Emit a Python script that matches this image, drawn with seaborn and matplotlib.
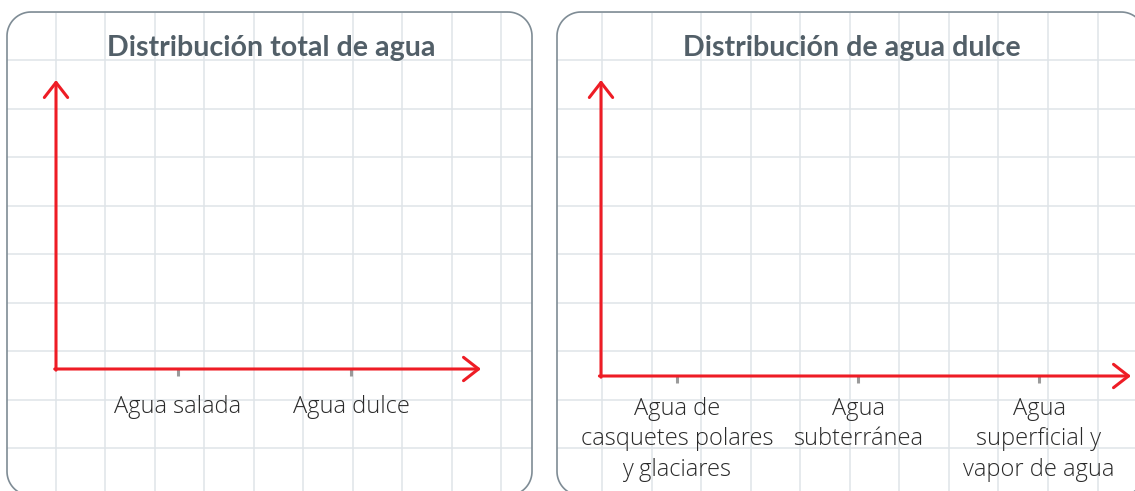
import numpy as np
import matplotlib
matplotlib.use("Agg")
import matplotlib.pyplot as plt
from matplotlib.patches import Polygon
import seaborn as sns

# blank worksheet: categories only, no values filled in yet
titles = ["Distribución total de agua", "Distribución de agua dulce"]
total_cats = ["Agua salada", "Agua dulce"]
total_vals = [0, 0]
dulce_cats = ["Agua de\ncasquetes polares\ny glaciares", "Agua\nsubterránea",
              "Agua\nsuperficial y\nvapor de agua"]
dulce_vals = [0, 0, 0]

sns.set_theme(style="white")
plt.rcParams["font.family"] = ["Open Sans", "DejaVu Sans"]

W, H = 1135, 491
fig = plt.figure(figsize=(W / 100, H / 100), dpi=100)

# background: rounded cards with square grid
bg = fig.add_axes([0, 0, 1, 1])
bg.set_xlim(0, W)
bg.set_ylim(H, 0)
bg.axis("off")


def rounded_rect(x0, y0, w, h, r, **kw):
    t = np.linspace(0, np.pi / 2, 20)
    x1, y1 = x0 + w, y0 + h
    pts = np.vstack([
        np.c_[x1 - r + r * np.sin(t), y0 + r - r * np.cos(t)],
        np.c_[x1 - r + r * np.cos(t), y1 - r + r * np.sin(t)],
        np.c_[x0 + r - r * np.sin(t), y1 - r + r * np.cos(t)],
        np.c_[x0 + r - r * np.cos(t), y0 + r - r * np.sin(t)],
    ])
    return Polygon(pts, closed=True, **kw)


panels = [(7, 12, 525, 483.5, 55.5), (557, 12, 588, 483.5, 602)]
grid_y = 60 + 48.5 * np.arange(-1, 10)
for x0, y0, w, h, gx0 in panels:
    card = rounded_rect(x0, y0, w, h, 24, fc="white", ec="none", zorder=1)
    bg.add_patch(card)
    for gx in gx0 + 49.55 * np.arange(-1, 12):
        ln, = bg.plot([gx, gx], [0, H], color="#dfe4e8", lw=1.1, zorder=2)
        ln.set_clip_path(card)
    for gy in grid_y:
        ln, = bg.plot([0, W], [gy, gy], color="#dfe4e8", lw=1.1, zorder=2)
        ln.set_clip_path(card)
    bg.add_patch(rounded_rect(x0, y0, w, h, 24, fc="none", ec="#7f8c95", lw=1.2, zorder=3))

for title, cx in zip(titles, [271, 852]):
    fig.text(cx / W, 1 - 48 / H, title, ha="center", va="center", fontsize=20.6,
             fontweight="bold", color="#525f68", family=["Lato", "DejaVu Sans"])


def chart_axes(x_left, x_right, y_top, y_bottom):
    ax = fig.add_axes([x_left / W, 1 - y_bottom / H, (x_right - x_left) / W,
                       (y_bottom - y_top) / H])
    ax.patch.set_alpha(0)
    return ax


red = "#ee1c25"
arrow = dict(arrowstyle="->,head_length=0.9,head_width=0.7", color=red, lw=2.2,
             shrinkA=0, shrinkB=0)

specs = [
    (total_cats, total_vals, (56, 481, 80, 369), (-0.705, 1.751), 14),
    (dulce_cats, dulce_vals, (601, 1131, 80, 376), (-0.42, 2.508), 10),
]
for cats, vals, box, xlim, pad in specs:
    ax = chart_axes(*box)
    sns.barplot(x=cats, y=vals, ax=ax, color=red, linewidth=0)
    ax.set_xlim(*xlim)
    ax.set_ylim(0, 1)
    sns.despine(ax=ax, left=True, bottom=True)
    ax.set_yticks([])
    ax.set_xlabel("")
    ax.set_ylabel("")
    ax.tick_params(axis="x", bottom=True, length=5, width=2.2, color="#9a9a9a",
                   pad=pad, labelsize=17, labelcolor="#2a2a2a")
    for lab in ax.get_xticklabels():
        lab.set_linespacing(1.37)
        lab.set_fontweight("light")
    ax.annotate("", xy=(1, 0), xytext=(-0.003, 0), xycoords="axes fraction",
                arrowprops=arrow)
    ax.annotate("", xy=(0, 1), xytext=(0, -0.004), xycoords="axes fraction",
                arrowprops=arrow)

fig.savefig("out.png", dpi=100)
